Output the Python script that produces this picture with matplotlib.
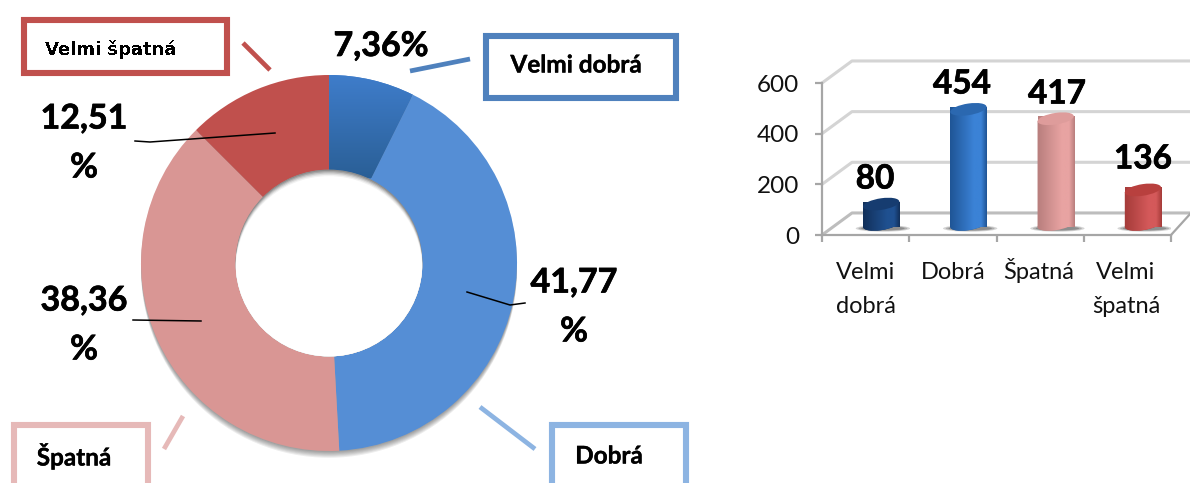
import numpy as np
from matplotlib import pyplot as plt
from matplotlib import patheffects as pe
from matplotlib.patches import Circle, Ellipse, Rectangle
from matplotlib.transforms import Affine2D
from matplotlib.colors import LinearSegmentedColormap

# data
categories = ['Velmi dobrá', 'Dobrá', 'Špatná', 'Velmi špatná']
percents = [7.36, 41.77, 38.36, 12.51]
counts = [80, 454, 417, 136]
y_ticks = [0, 200, 400, 600]
tick_labels = ['Velmi\ndobrá', 'Dobrá', 'Špatná', 'Velmi\nšpatná']
percent_lines = ['7,36%', '41,77\n%', '38,36\n%', '12,51\n%']

W, H = 1190, 483
plt.rcParams['font.family'] = ['Lato', 'DejaVu Sans']
fig = plt.figure(figsize=(W / 100, H / 100), dpi=100)
heavy = [pe.withStroke(linewidth=0.5, foreground='black')]
heavy_small = [pe.withStroke(linewidth=0.25, foreground='black')]


def px_axes(x0, y0, x1, y1):
    # axes from pixel box, y counted from the top
    return fig.add_axes([x0 / W, 1 - y1 / H, (x1 - x0) / W, (y1 - y0) / H])


# donut
ax = px_axes(141, 75, 517, 451)
wedges, _ = ax.pie(percents, startangle=90, counterclock=False, radius=1,
                   colors=['#3F7DCB', '#558ED5', '#D99694', '#C0504D'],
                   wedgeprops={'width': 0.505, 'linewidth': 0})
grad = np.linspace(0, 1, 100).reshape(-1, 1)
cm = LinearSegmentedColormap.from_list('w', ['#2A5F96', '#3F7DCB'])
im = ax.imshow(grad, extent=[0, 0.5, 0.45, 1], origin='lower', cmap=cm, aspect='auto', zorder=3)
im.set_clip_path(wedges[0])
# soft shadow under the ring and inside the hole
for k in range(1, 7):
    ax.add_patch(Circle((0, -0.006 * k), 1, color='black', alpha=0.07, lw=0, zorder=0, clip_on=False))
hole = Circle((0, 0), 0.497, color='#8C8C8C', lw=0, zorder=5)
ax.add_patch(hole)
for k, c in enumerate(['#A6A6A6', '#C4C4C4', '#DEDEDE', '#F2F2F2', '#FFFFFF']):
    lay = Circle((0, -0.007 * (k + 1)), 0.497, color=c, lw=0, zorder=6 + k)
    ax.add_patch(lay)
    lay.set_clip_path(hole)
ax.set_xlim(-1, 1)
ax.set_ylim(-1, 1)

# bars, front plane of the fake 3d box
bx = px_axes(822, 83, 1171, 235)
bx.patch.set_alpha(0)
bx.set_xlim(0, 4)
bx.set_ylim(0, 600)
bx.set_autoscale_on(False)
for s in bx.spines.values():
    s.set_visible(False)
for side in ['left', 'bottom']:
    bx.spines[side].set_visible(True)
    bx.spines[side].set_color('#A6A6A6')
    bx.spines[side].set_linewidth(1.6)
bx.set_yticks(y_ticks)
bx.set_yticklabels([str(v) for v in y_ticks], fontsize=17.5, color='#111111')
bx.set_xticks(range(5))
bx.set_xticklabels([])
bx.tick_params(axis='both', color='#A6A6A6', width=1.6, length=5)
bx.tick_params(axis='y', pad=11.5)

dx, dy = 0.344, 87
right = (1190 - 822) / 87.25
for v in y_ticks:
    col = '#BDBDBD' if v == 0 else '#D4D4D4'
    bx.plot([0, dx, right], [v, v + dy, v + dy], color=col, lw=2.2, clip_on=False, zorder=1)
bx.plot([4, right], [0, dy * 0.95], color='#A6A6A6', lw=1.6, clip_on=False, zorder=1)

bar_cols = [('#12305A', '#1F5090', '#163C70'), ('#1F5596', '#3B82D6', '#2B68B0'),
            ('#B97F7E', '#E8A3A2', '#DE9C9B'), ('#A63C3A', '#D4595A', '#B8403E')]
w = 0.415
off_x, off_y = 0.178, 42
ell_h = 46
for i, v in enumerate(counts):
    cx = i + 0.5 + off_x
    xs = cx - w / 2
    # shadow on the floor
    for sw, sh, al in [(1.5, 26, 0.25), (1.35, 20, 0.3), (1.2, 16, 0.4)]:
        bx.add_patch(Ellipse((cx + 0.02, off_y - 16), w * sw, sh, color='#5A5A5A', alpha=al, lw=0, zorder=2))
    bar = bx.bar(cx, v, width=w, bottom=off_y, color=bar_cols[i][0], lw=0, zorder=3)[0]
    # tilt the cylinder a bit like in the picture
    pc = bx.transData.transform((cx, off_y))
    tilt = Affine2D().translate(-pc[0], -pc[1]).skew_deg(0, 8).translate(pc[0], pc[1])
    t = bx.transData + tilt
    bar.set_transform(t)
    bot = Ellipse((cx, off_y), w, ell_h, transform=t, lw=0, color=bar_cols[i][0], zorder=3)
    bx.add_patch(bot)
    shade = LinearSegmentedColormap.from_list(
        'c', [(0, bar_cols[i][0]), (0.65, bar_cols[i][1]), (0.85, bar_cols[i][1]), (1, bar_cols[i][0])])
    g = np.linspace(0, 1, 64).reshape(1, -1)
    for part in (bar, bot):
        im = bx.imshow(g, extent=[xs, xs + w, -100, 700], cmap=shade, aspect='auto', zorder=3.5)
        im.set_clip_path(part)
    top = Ellipse((cx, off_y + v), w, ell_h, transform=t, lw=0, color=bar_cols[i][2], zorder=4)
    bx.add_patch(top)
bx.set_xlim(0, 4)
bx.set_ylim(0, 600)

# overlay in pixels: callouts and labels
ov = fig.add_axes([0, 0, 1, 1])
ov.set_xlim(0, W)
ov.set_ylim(H, 0)
ov.axis('off')

boxes = [(486, 36, 676, 98, '#4F81BD'), (552, 425, 686, 495, '#8DB4E2'),
         (14, 425, 148, 495, '#E6B9B8'), (23.5, 19.5, 226.5, 73, '#C0504D')]
for x0, y0, x1, y1, col in boxes:
    ov.add_patch(Rectangle((x0, y0), x1 - x0, y1 - y0, fc='white', ec=col, lw=4.4, joinstyle='miter'))
leaders = [((410, 71), (470, 59), '#4F81BD'), ((480, 407), (535, 449), '#8DB4E2'),
           ((164, 449), (183, 416), '#E6B9B8'), ((243, 43), (270, 70), '#C0504D')]
for a, b, col in leaders:
    ov.plot([a[0], b[0]], [a[1], b[1]], color=col, lw=3.4, solid_capstyle='butt')
ov.text(576, 65, categories[0], ha='center', va='center', fontsize=17.5, fontweight='bold', path_effects=heavy_small)
ov.text(609, 456, categories[1], ha='center', va='center', fontsize=17.5, fontweight='bold', path_effects=heavy_small)
ov.text(74, 456, categories[2], ha='center', va='center', fontsize=17.5, fontweight='bold', path_effects=heavy_small)
t = ov.text(111, 50, categories[3], ha='center', va='center', fontsize=13, fontweight='bold', family='DejaVu Sans')
t.set_antialiased(False)

for xs, ys in [([135, 150, 275], [141, 142, 133]), ([133, 201], [320, 321]), ([467, 510, 525], [292, 305, 303])]:
    ov.plot(xs, ys, color='black', lw=1.1)

pos = [(381, 46), (574, 307), (84, 325), (84, 143)]
for (x, y), s in zip(pos, percent_lines):
    ov.text(x, y, s, ha='center', va='center', fontsize=24.5, fontweight='bold', linespacing=1.65,
            path_effects=heavy)

for v, x, y in zip(counts, [875, 962, 1057, 1143], [179, 84, 94, 159]):
    ov.text(x, y, str(v), ha='center', va='center', fontsize=24, fontweight='bold', path_effects=heavy)

# category labels under the axis, one baseline per line
label_x = [866, 953, 1039, 1126]
for x, lab in zip(label_x, tick_labels):
    for y, line in zip([279, 313], lab.split('\n')):
        ov.text(x, y, line, ha='center', va='baseline', fontsize=17, color='#111111')

fig.savefig('out.png', dpi=100)
